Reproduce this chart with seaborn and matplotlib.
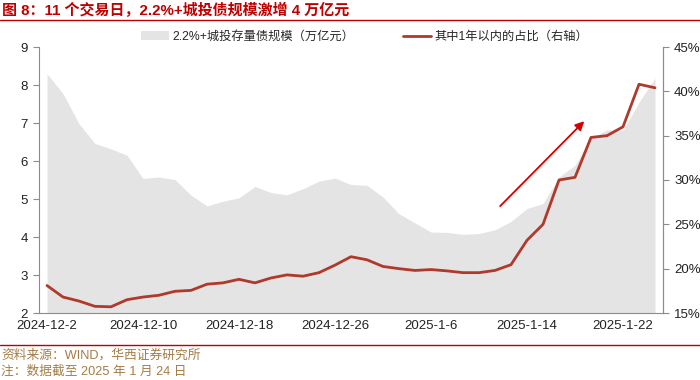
import matplotlib

matplotlib.use("Agg")
import matplotlib.pyplot as plt
import numpy as np
import seaborn as sns
from matplotlib.lines import Line2D
from matplotlib.patches import Patch
from matplotlib.ticker import FixedLocator, FuncFormatter

# ── Data ──────────────────────────────────────────────────────────────────────
dates = [
    "2024-12-2", "2024-12-3", "2024-12-4", "2024-12-5", "2024-12-6", "2024-12-9",
    "2024-12-10", "2024-12-11", "2024-12-12", "2024-12-13", "2024-12-16", "2024-12-17",
    "2024-12-18", "2024-12-19", "2024-12-20", "2024-12-23", "2024-12-24", "2024-12-25",
    "2024-12-26", "2024-12-27", "2024-12-30", "2024-12-31", "2025-1-2", "2025-1-3",
    "2025-1-6", "2025-1-7", "2025-1-8", "2025-1-9", "2025-1-10", "2025-1-13",
    "2025-1-14", "2025-1-15", "2025-1-16", "2025-1-17", "2025-1-20", "2025-1-21",
    "2025-1-22", "2025-1-23", "2025-1-24",
]
bond_scale = [
    8.30, 7.77, 6.98, 6.46, 6.32, 6.15, 5.54, 5.58, 5.51, 5.10,
    4.82, 4.94, 5.03, 5.33, 5.17, 5.11, 5.27, 5.47, 5.55, 5.38,
    5.36, 5.05, 4.61, 4.37, 4.13, 4.12, 4.07, 4.09, 4.19, 4.41,
    4.75, 4.88, 5.58, 5.89, 6.59, 6.82, 6.81, 7.55, 8.18,
]
share_1y = [
    18.1, 16.8, 16.35, 15.75, 15.7, 16.5, 16.8, 17.0, 17.45, 17.55,
    18.25, 18.4, 18.8, 18.4, 18.95, 19.3, 19.15, 19.55, 20.4, 21.35,
    21.0, 20.25, 20.0, 19.8, 19.9, 19.75, 19.55, 19.55, 19.8, 20.45,
    23.2, 25.0, 30.0, 30.3, 34.8, 35.0, 36.0, 40.8, 40.4,
]
label_every = 6

title = "图 8：11 个交易日，2.2%+城投债规模激增 4 万亿元"
area_label = "2.2%+城投存量债规模（万亿元）"
line_label = "其中1年以内的占比（右轴）"
source_note = "资料来源：WIND，华西证券研究所"
date_note = "注：数据截至 2025 年 1 月 24 日"

# ── Style ────────────────────────────────────────────────────────────────────
AREA_COLOR = "#e4e4e4"
LINE_COLOR = "#b0392b"
ARROW_COLOR = "#d40000"
TITLE_COLOR = "#c00000"
NOTE_COLOR = "#a57c45"
SPINE_COLOR = "#8c8c8c"

sns.set_theme(style="white")
plt.rcParams["font.family"] = ["Liberation Sans", "Noto Sans CJK SC"]

x = np.arange(len(dates))

fig = plt.figure(figsize=(7, 3.8), dpi=100)
ax = fig.add_axes([39 / 700, 1 - 313 / 380, (663 - 39) / 700, (313 - 47) / 380])
ax2 = ax.twinx()

# area on left axis
ax.fill_between(x, bond_scale, 2, color=AREA_COLOR, lw=0, zorder=1)
ax.set_ylim(2, 9)
ax.set_yticks(range(2, 10))
ax.set_xlim(-0.5, len(dates) - 0.5)

# line on right axis
sns.lineplot(x=x, y=share_1y, ax=ax2, color=LINE_COLOR, lw=2.0, legend=False)
ax2.set_ylim(15, 45)
ax2.set_yticks(range(15, 50, 5))
ax2.yaxis.set_major_formatter(FuncFormatter(lambda v, _: f"{v:.0f}%"))

# x axis: labels on every 6th trading day, tick marks at group boundaries
ax.set_xticks(x[::label_every])
ax.set_xticklabels(dates[::label_every])
ax.tick_params(axis="x", which="major", length=0, pad=5)
ax.xaxis.set_minor_locator(
    FixedLocator(list(np.arange(-0.5, len(dates), label_every)) + [len(dates) - 0.5])
)
ax.tick_params(axis="x", which="minor", length=4, color=SPINE_COLOR, width=0.8)

for a in (ax, ax2):
    for side, sp in a.spines.items():
        sp.set_color(SPINE_COLOR)
        sp.set_linewidth(0.8)
        sp.set_visible(side != "top")
    a.tick_params(axis="y", length=4, color=SPINE_COLOR, width=0.8,
                  labelsize=9.5, labelcolor="#222222", pad=4)
    a.set_xlabel("")
    a.set_ylabel("")
    a.grid(False)
ax.tick_params(axis="y", direction="out")
ax.tick_params(axis="x", labelsize=9.5, labelcolor="#222222")
ax2.spines["left"].set_visible(False)
ax2.spines["bottom"].set_visible(False)

# trend arrow
ax.annotate(
    "",
    xy=(33.7, 7.10),
    xytext=(28.2, 4.76),
    arrowprops=dict(arrowstyle="-|>", color=ARROW_COLOR, lw=1.3, mutation_scale=13),
    zorder=5,
)
ax2.set_zorder(ax.get_zorder() + 1)
ax2.patch.set_visible(False)

# legends
leg_kw = dict(frameon=False, loc="center left", borderpad=0, borderaxespad=0,
              handlelength=2.3, handletextpad=0.3, fontsize=8.8)
fig.legend(handles=[Patch(facecolor=AREA_COLOR, edgecolor="none", label=area_label)],
           bbox_to_anchor=(141 / 700, 1 - 37 / 380), **leg_kw)
fig.legend(handles=[Line2D([], [], color=LINE_COLOR, lw=2.0, label=line_label)],
           bbox_to_anchor=(403 / 700, 1 - 37 / 380), **leg_kw)

# title, rules and notes
fig.text(2 / 700, 1 - 10 / 380, title, color=TITLE_COLOR, fontsize=10.8,
         fontweight="bold", va="center", ha="left")
fig.add_artist(Line2D([0, 1], [1 - 20 / 380] * 2, color=TITLE_COLOR, lw=1.0,
                      transform=fig.transFigure))
fig.add_artist(Line2D([0, 1], [1 - 345 / 380] * 2, color=TITLE_COLOR, lw=1.0,
                      transform=fig.transFigure))
fig.text(1 / 700, 1 - 355 / 380, source_note, color=NOTE_COLOR, fontsize=9.2,
         va="center", ha="left")
fig.text(1 / 700, 1 - 372 / 380, date_note, color=NOTE_COLOR, fontsize=9.2,
         va="center", ha="left")

fig.savefig("out.png", dpi=100)
